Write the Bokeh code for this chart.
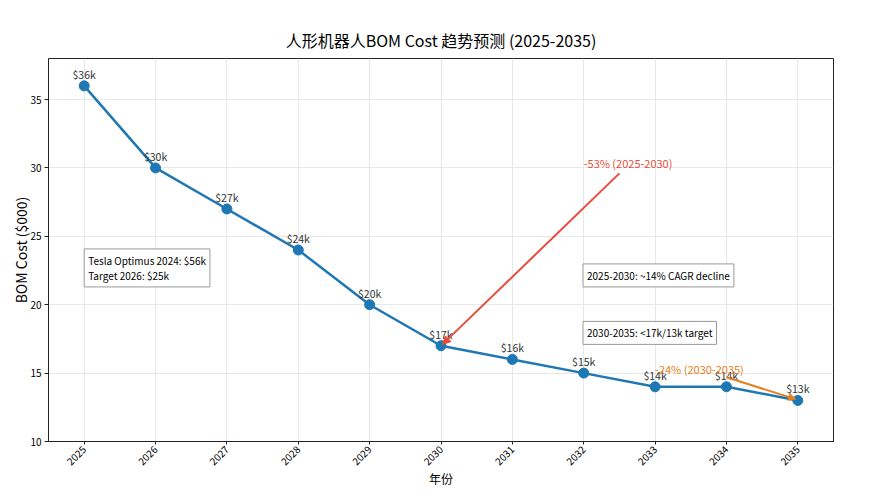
import math
from bokeh.plotting import figure
from bokeh.models import Label, Arrow, NormalHead, ColumnDataSource, FixedTicker, Range1d
from bokeh.embed import file_html
from bokeh.resources import INLINE

years = [2025, 2026, 2027, 2028, 2029, 2030, 2031, 2032, 2033, 2034, 2035]
costs = [36, 30, 27, 24, 20, 17, 16, 15, 14, 14, 13]
point_labels = ["$36k", "$30k", "$27k", "$24k", "$20k", "$17k", "$16k", "$15k", "$14k", "$14k", "$13k"]
y_ticks = [10, 15, 20, 25, 30, 35]

FONT = "Noto Sans CJK SC"
BLUE = "#1f77b4"
RED = "#e74c3c"
ORANGE = "#e67e22"

p = figure(width=857, height=489, output_backend="svg", toolbar_location=None,
           x_range=Range1d(2024.5, 2035.5), y_range=Range1d(10, 38),
           min_border_left=48, min_border_right=24, min_border_top=58, min_border_bottom=5)

p.title.text = "人形机器人BOM Cost 趋势预测 (2025-2035)"
p.title.text_font = FONT
p.title.text_font_size = "16px"
p.title.text_font_style = "normal"
p.title.text_color = "black"
p.title.align = "center"
p.title.offset = 0
p.title.standoff = 14

p.outline_line_color = "#222222"
p.outline_line_width = 1
p.background_fill_color = "white"
p.border_fill_color = "white"

p.xaxis.ticker = FixedTicker(ticks=years)
p.yaxis.ticker = FixedTicker(ticks=y_ticks)
p.xaxis.major_label_orientation = math.pi / 4
for ax in (p.xaxis, p.yaxis):
    ax.major_label_text_font = FONT
    ax.major_label_text_font_size = "10px"
    ax.major_label_text_color = "black"
    ax.axis_label_text_font = FONT
    ax.axis_label_text_font_size = "14px"
    ax.axis_label_text_font_style = "normal"
    ax.axis_label_text_color = "black"
    ax.minor_tick_line_color = None
    ax.major_tick_out = 4
    ax.major_tick_in = 0
    ax.axis_line_color = "#222222"
    ax.major_tick_line_color = "#222222"
    ax.major_label_standoff = 3
p.xaxis.axis_label = "年份"
p.yaxis.axis_label = "BOM Cost ($000)"
p.xaxis.axis_label_text_font_size = "12px"
p.xaxis.axis_label_standoff = -2
p.xaxis.major_label_standoff = 3
p.xaxis.major_tick_out = 3
p.yaxis.axis_label_standoff = -4

p.grid.grid_line_color = "#e8e8e8"
p.grid.grid_line_width = 1

src = ColumnDataSource(dict(x=years, y=costs, lab=point_labels))
p.line("x", "y", source=src, line_color=BLUE, line_width=2.5)
p.scatter("x", "y", source=src, size=10, fill_color=BLUE, line_color=BLUE)
p.text("x", "y", text="lab", source=src, text_align="center", text_baseline="bottom",
       y_offset=-4, text_font_size="10.5px", text_color="#333333",
       text_font={"value": FONT})

# arrows
p.add_layout(Arrow(end=NormalHead(size=8, fill_color=RED, line_color=RED),
                   x_start=2032.5, y_start=29.6, x_end=2030.02, y_end=17.1,
                   line_color=RED, line_width=2))
p.add_layout(Label(x=2032.0, y=29.75, text="-53% (2025-2030)", text_color=RED,
                   text_font=FONT, text_font_size="11px"))
p.add_layout(Arrow(end=NormalHead(size=7, fill_color=ORANGE, line_color=ORANGE),
                   x_start=2034.0, y_start=14.7, x_end=2034.97, y_end=13.1,
                   line_color=ORANGE, line_width=2))
p.add_layout(Label(x=2033.0, y=14.75, text="-24% (2030-2035)", text_color=ORANGE,
                   text_font=FONT, text_font_size="11px"))

# boxes
box_kw = dict(text_font=FONT, text_font_size="10px", text_color="black",
              background_fill_color="white", border_line_color="#999999",
              border_line_width=1, padding=4, text_line_height=1.0)
p.add_layout(Label(x=2025.0, y=21.3, text="Tesla Optimus 2024: $56k\nTarget 2026: $25k", **box_kw))
p.add_layout(Label(x=2031.99, y=21.3, text="2025-2030: ~14% CAGR decline", **box_kw))
p.add_layout(Label(x=2031.99, y=17.1, text="2030-2035: <17k/13k target", **box_kw))

open("out.html", "w").write(file_html(p, INLINE))
